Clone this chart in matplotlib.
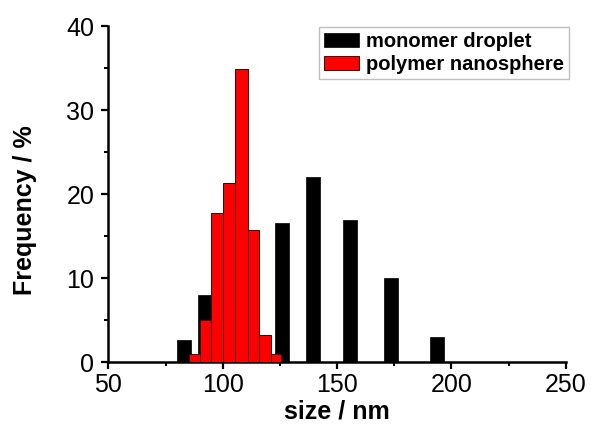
import numpy as np
import matplotlib.pyplot as plt
from matplotlib.ticker import MultipleLocator

plt.rcParams['font.family'] = ['Liberation Sans', 'DejaVu Sans']

# monomer droplet (black) - bar centres and heights
mono_x = [83.1, 92.2, 125.8, 139.6, 155.6, 173.5, 193.7]
mono_y = [2.7, 8.0, 16.6, 22.1, 16.9, 10.0, 3.0]
mono_w = 6.1

# polymer nanosphere (red) - bin edges and heights
poly_edges = [85.2, 90.1, 95.1, 100.2, 105.2, 110.9, 115.9, 121.0, 125.7]
poly_y = [1.0, 5.0, 17.7, 21.3, 34.9, 15.7, 3.3, 1.0]

fig = plt.figure(figsize=(5.92, 4.25), dpi=100)
ax = fig.add_axes([0.183, 0.1475, 0.7726, 0.7913])

ax.bar(mono_x, mono_y, width=mono_w, color='black', edgecolor='black',
       linewidth=0.5, label='monomer droplet', zorder=2)
edges = np.array(poly_edges)
ax.bar(edges[:-1], poly_y, width=np.diff(edges), align='edge', color='#ff0000',
       edgecolor='#400000', linewidth=0.7, label='polymer nanosphere', zorder=3)

ax.set_xlim(50, 250)
ax.set_ylim(0, 40)
ax.xaxis.set_major_locator(MultipleLocator(50))
ax.xaxis.set_minor_locator(MultipleLocator(25))
ax.yaxis.set_major_locator(MultipleLocator(10))
ax.yaxis.set_minor_locator(MultipleLocator(5))

for s in ['top', 'right']:
    ax.spines[s].set_visible(False)
for s in ['left', 'bottom']:
    ax.spines[s].set_linewidth(1.8)

ax.tick_params(which='major', direction='out', length=5, width=1.6, labelsize=18)
ax.tick_params(which='minor', direction='out', length=3, width=1.4)
ax.tick_params(axis='x', which='major', pad=3)
ax.tick_params(axis='y', which='major', pad=5)

ax.set_xlabel('size / nm', fontsize=18, fontweight='bold', va='top')
ax.xaxis.set_label_coords(0.5, -0.112)
ax.set_ylabel('Frequency / %', fontsize=18, fontweight='bold')
ax.yaxis.set_label_coords(-0.157, 0.452)

leg = ax.legend(loc='upper right', bbox_to_anchor=(1.007, 0.997),
                prop={'weight': 'bold', 'size': 14.5}, frameon=True, fancybox=False,
                handlelength=1.75, handleheight=0.65, handletextpad=0.35,
                borderpad=0.25, labelspacing=0.2, borderaxespad=0.0)
leg.get_frame().set_edgecolor('#b0b0b0')
leg.get_frame().set_linewidth(1.0)

fig.savefig('out.png', dpi=100)
